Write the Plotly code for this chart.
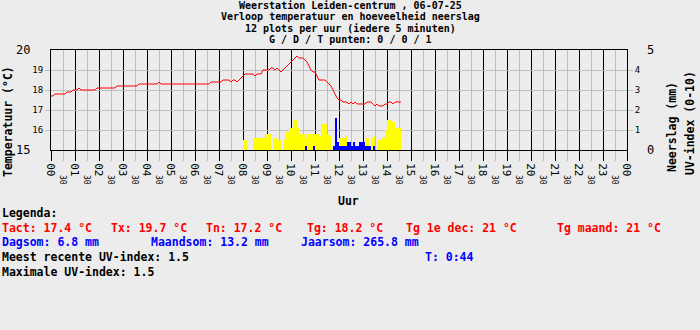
import plotly.graph_objects as go

# ---------------- data ----------------
# Temperature every 5 minutes from 00:00 (one row per hour)
temperature = [
    17.7, 17.7, 17.8, 17.8, 17.8, 17.8, 17.8, 17.8, 17.9, 17.9, 17.9, 18.0,
    18.0, 18.0, 18.1, 18.0, 18.0, 18.0, 18.0, 18.0, 18.0, 18.0, 18.0, 18.1,
    18.1, 18.1, 18.1, 18.1, 18.1, 18.1, 18.1, 18.1, 18.1, 18.2, 18.2, 18.2,
    18.2, 18.2, 18.2, 18.2, 18.2, 18.2, 18.2, 18.2, 18.3, 18.3, 18.3, 18.3,
    18.3, 18.3, 18.3, 18.3, 18.3, 18.3, 18.4, 18.3, 18.3, 18.3, 18.3, 18.3,
    18.3, 18.3, 18.3, 18.3, 18.3, 18.3, 18.3, 18.3, 18.3, 18.3, 18.3, 18.3,
    18.3, 18.3, 18.3, 18.3, 18.3, 18.3, 18.3, 18.3, 18.4, 18.4, 18.4, 18.4,
    18.4, 18.4, 18.5, 18.5, 18.5, 18.5, 18.4, 18.5, 18.5, 18.4, 18.5, 18.6,
    18.7, 18.8, 18.8, 18.8, 18.8, 18.8, 18.7, 18.8, 18.8, 18.8, 19.0, 19.0,
    19.0, 19.0, 19.1, 19.1, 19.0, 19.1, 19.0, 18.9, 19.0, 19.1, 19.2, 19.3,
    19.4, 19.5, 19.6, 19.7, 19.6, 19.6, 19.6, 19.5, 19.4, 19.2, 19.0, 18.9,
    18.9, 18.7, 18.5, 18.5, 18.5, 18.5, 18.4, 18.3, 18.2, 18.0, 17.8, 17.6,
    17.5, 17.5, 17.4, 17.4, 17.4, 17.3, 17.4, 17.3, 17.4, 17.3, 17.3, 17.3,
    17.3, 17.3, 17.4, 17.4, 17.4, 17.3, 17.2, 17.3, 17.2, 17.2, 17.2, 17.3,
    17.3, 17.4, 17.4, 17.3, 17.4, 17.4, 17.4, 17.4,
]

# UV-index every 5 minutes from 08:00
uv_index = [
    0.5, 0.5, 0.0, 0.0, 0.0, 0.6, 0.6, 0.6, 0.6, 0.6, 0.6, 0.8,
    0.8, 0.8, 0.0, 0.6, 0.6, 0.5, 0.5, 0.0, 0.5, 0.9, 0.9, 1.1,
    1.1, 1.5, 1.5, 1.1, 0.8, 0.8, 0.8, 0.6, 0.8, 0.8, 0.8, 0.8,
    0.8, 0.8, 0.7, 1.3, 1.3, 1.3, 0.8, 0.7, 0.0, 0.0, 0.0, 0.0,
    0.6, 0.6, 0.6, 0.7, 0.0, 0.0, 0.0, 0.0, 0.0, 0.0, 0.0, 0.0,
    0.0, 0.6, 0.6, 0.0, 0.6, 0.7, 0.0, 0.5, 0.5, 0.6, 0.6, 1.0,
    1.5, 1.5, 1.4, 1.4, 1.1, 1.1, 1.1, 0.0,
]

# Precipitation (mm) every 5 minutes from 08:00
rain_mm = [
    0.0, 0.0, 0.0, 0.0, 0.0, 0.0, 0.0, 0.0, 0.0, 0.0, 0.0, 0.0,
    0.0, 0.0, 0.0, 0.0, 0.0, 0.0, 0.0, 0.0, 0.0, 0.0, 0.0, 0.0,
    0.0, 0.0, 0.0, 0.0, 0.0, 0.0, 0.0, 0.2, 0.0, 0.0, 0.0, 0.2,
    0.0, 0.0, 0.0, 0.0, 0.0, 0.0, 0.0, 0.0, 0.0, 0.2, 1.6, 0.4,
    0.2, 0.2, 0.2, 0.2, 0.4, 0.4, 0.2, 0.4, 0.2, 0.2, 0.4, 0.4,
    0.4, 0.2, 0.2, 0.2, 0.0, 0.2, 0.0, 0.0, 0.0, 0.0, 0.0, 0.0,
    0.0, 0.0, 0.0, 0.0, 0.0, 0.0, 0.0, 0.0,
]

hour_labels = ["%02d" % h for h in range(24)] + ["00"]
half_labels = ["30"] * 24
temp_ticks = ["16", "17", "18", "19"]
mm_ticks = ["1", "2", "3", "4"]

title_lines = [
    "Weerstation Leiden-centrum , 06-07-25",
    "Verloop temperatuur en hoeveelheid neerslag",
    "12 plots per uur (iedere 5 minuten)",
    "G / D / T punten: 0 / 0 / 1",
]

legend_red = [("Tact: 17.4 °C", 0), ("Tx: 19.7 °C", 109), ("Tn: 17.2 °C", 204),
              ("Tg: 18.2 °C", 305), ("Tg 1e dec: 21 °C", 404), ("Tg maand: 21 °C", 555)]
legend_blue = [("Dagsom: 6.8 mm", 0), ("Maandsom: 13.2 mm", 149),
               ("Jaarsom: 265.8 mm", 299)]

# ---------------- figure ----------------
FONT = "DejaVu Sans Mono"
BG = "#ECECEC"
L, R, T, B = 51, 73, 50, 180
PW, PH = 700 - L - R, 330 - T - B

t_temp = [i / 12 for i in range(len(temperature))]
t_bars = [8 + i / 12 for i in range(len(uv_index))]

fig = go.Figure()
fig.add_trace(go.Bar(x=t_bars, y=uv_index, width=1 / 12, offset=0,
                     marker=dict(color="#FFFF00", line=dict(width=0)),
                     yaxis="y2", xaxis="x"))
fig.add_trace(go.Bar(x=t_bars, y=rain_mm, width=1 / 12, offset=0,
                     marker=dict(color="#0000FF", line=dict(width=0)),
                     yaxis="y2", xaxis="x"))
fig.add_trace(go.Scatter(x=t_temp, y=temperature, mode="lines",
                         line=dict(color="#FF0000", width=1), yaxis="y"))


def px_x(px):
    return (px - L) / PW


def px_y(py):
    return (T + PH - py) / PH


anns = []


def ann(text, px, py, color="black", size=11.5, bold=True, xanchor="left",
        angle=0):
    anns.append(dict(text=text, x=px_x(px), y=px_y(py), xref="paper",
                     yref="paper", showarrow=False, xanchor=xanchor,
                     yanchor="middle", textangle=angle,
                     font=dict(family=FONT, size=size, color=color,
                               weight="bold" if bold else "normal")))


for k, line in enumerate(title_lines):
    ann(line, 350, 5.5 + 11.3 * k, xanchor="center", size=10)

ann("Legenda:", 0, 213)
for txt, x0 in legend_red:
    ann(txt, x0, 228, color="#FF0000")
for txt, x0 in legend_blue:
    ann(txt, x0, 242, color="#0000FF")
ann("Meest recente UV-index: 1.5", 0, 257)
ann("T: 0:44", 423, 257, color="#0000FF")
ann("Maximale UV-index: 1.5", 0, 272)
ann("Uur", 348, 201, xanchor="center")
ann("Temperatuur (°C)", 8, 122, xanchor="center", angle=-90)
ann("Neerslag (mm)", 672, 127, xanchor="center", angle=-90)
ann("UV-index (0-10)", 690, 123, xanchor="center", angle=-90)
# end labels of the two value axes
ann("20", 32, 50, size=12, bold=False, xanchor="right")
ann("15", 32, 150, size=12, bold=False, xanchor="right")
ann("5", 645, 50, size=12, bold=False)
ann("0", 645, 150, size=12, bold=False)

fig.update_layout(
    width=700, height=330, margin=dict(l=L, r=R, t=T, b=B, pad=0),
    paper_bgcolor=BG, plot_bgcolor=BG, showlegend=False,
    barmode="overlay", bargap=0, annotations=anns,
    xaxis=dict(range=[0, 24], tickvals=list(range(25)), ticktext=hour_labels,
               tickangle=90, tickfont=dict(family=FONT, size=11, color="black"),
               showgrid=True, gridcolor="black", gridwidth=1,
               ticks="outside", ticklen=10, tickcolor="black", tickwidth=1,
               minor=dict(tickvals=[h + 0.5 for h in range(24)], showgrid=True,
                          gridcolor="#BEBEBE", gridwidth=1, ticks="outside",
                          ticklen=10, tickcolor="#BEBEBE"),
               showline=True, linecolor="black", linewidth=1, mirror=True,
               zeroline=False, fixedrange=True),
    xaxis2=dict(range=[0, 24], overlaying="x", anchor="y", side="bottom",
                tickvals=[h + 0.5 for h in range(24)], ticktext=half_labels,
                tickangle=90, tickfont=dict(family=FONT, size=8, color="black"),
                ticks="", ticklabelstandoff=24, showgrid=False, showline=False,
                zeroline=False),
    yaxis=dict(range=[15, 20], tickvals=[16, 17, 18, 19], ticktext=temp_ticks,
               tickfont=dict(family=FONT, size=9, color="black"),
               showgrid=True, gridcolor="#BEBEBE", gridwidth=1,
               ticks="outside", ticklen=5, tickcolor="#BEBEBE",
               showline=True, linecolor="black", linewidth=1, mirror=True,
               zeroline=False, fixedrange=True),
    yaxis2=dict(range=[0, 5], overlaying="y", side="right", anchor="x",
                tickvals=[1, 2, 3, 4], ticktext=mm_ticks,
                tickfont=dict(family=FONT, size=9, color="black"),
                showgrid=False, ticks="outside", ticklen=5,
                tickcolor="#BEBEBE", zeroline=False, showline=False),
)
# invisible point so the half-hour axis gets drawn
fig.add_trace(go.Scatter(x=[0], y=[15], xaxis="x2", yaxis="y", mode="markers",
                         marker=dict(opacity=0), hoverinfo="skip"))

fig.write_html("out.html")
